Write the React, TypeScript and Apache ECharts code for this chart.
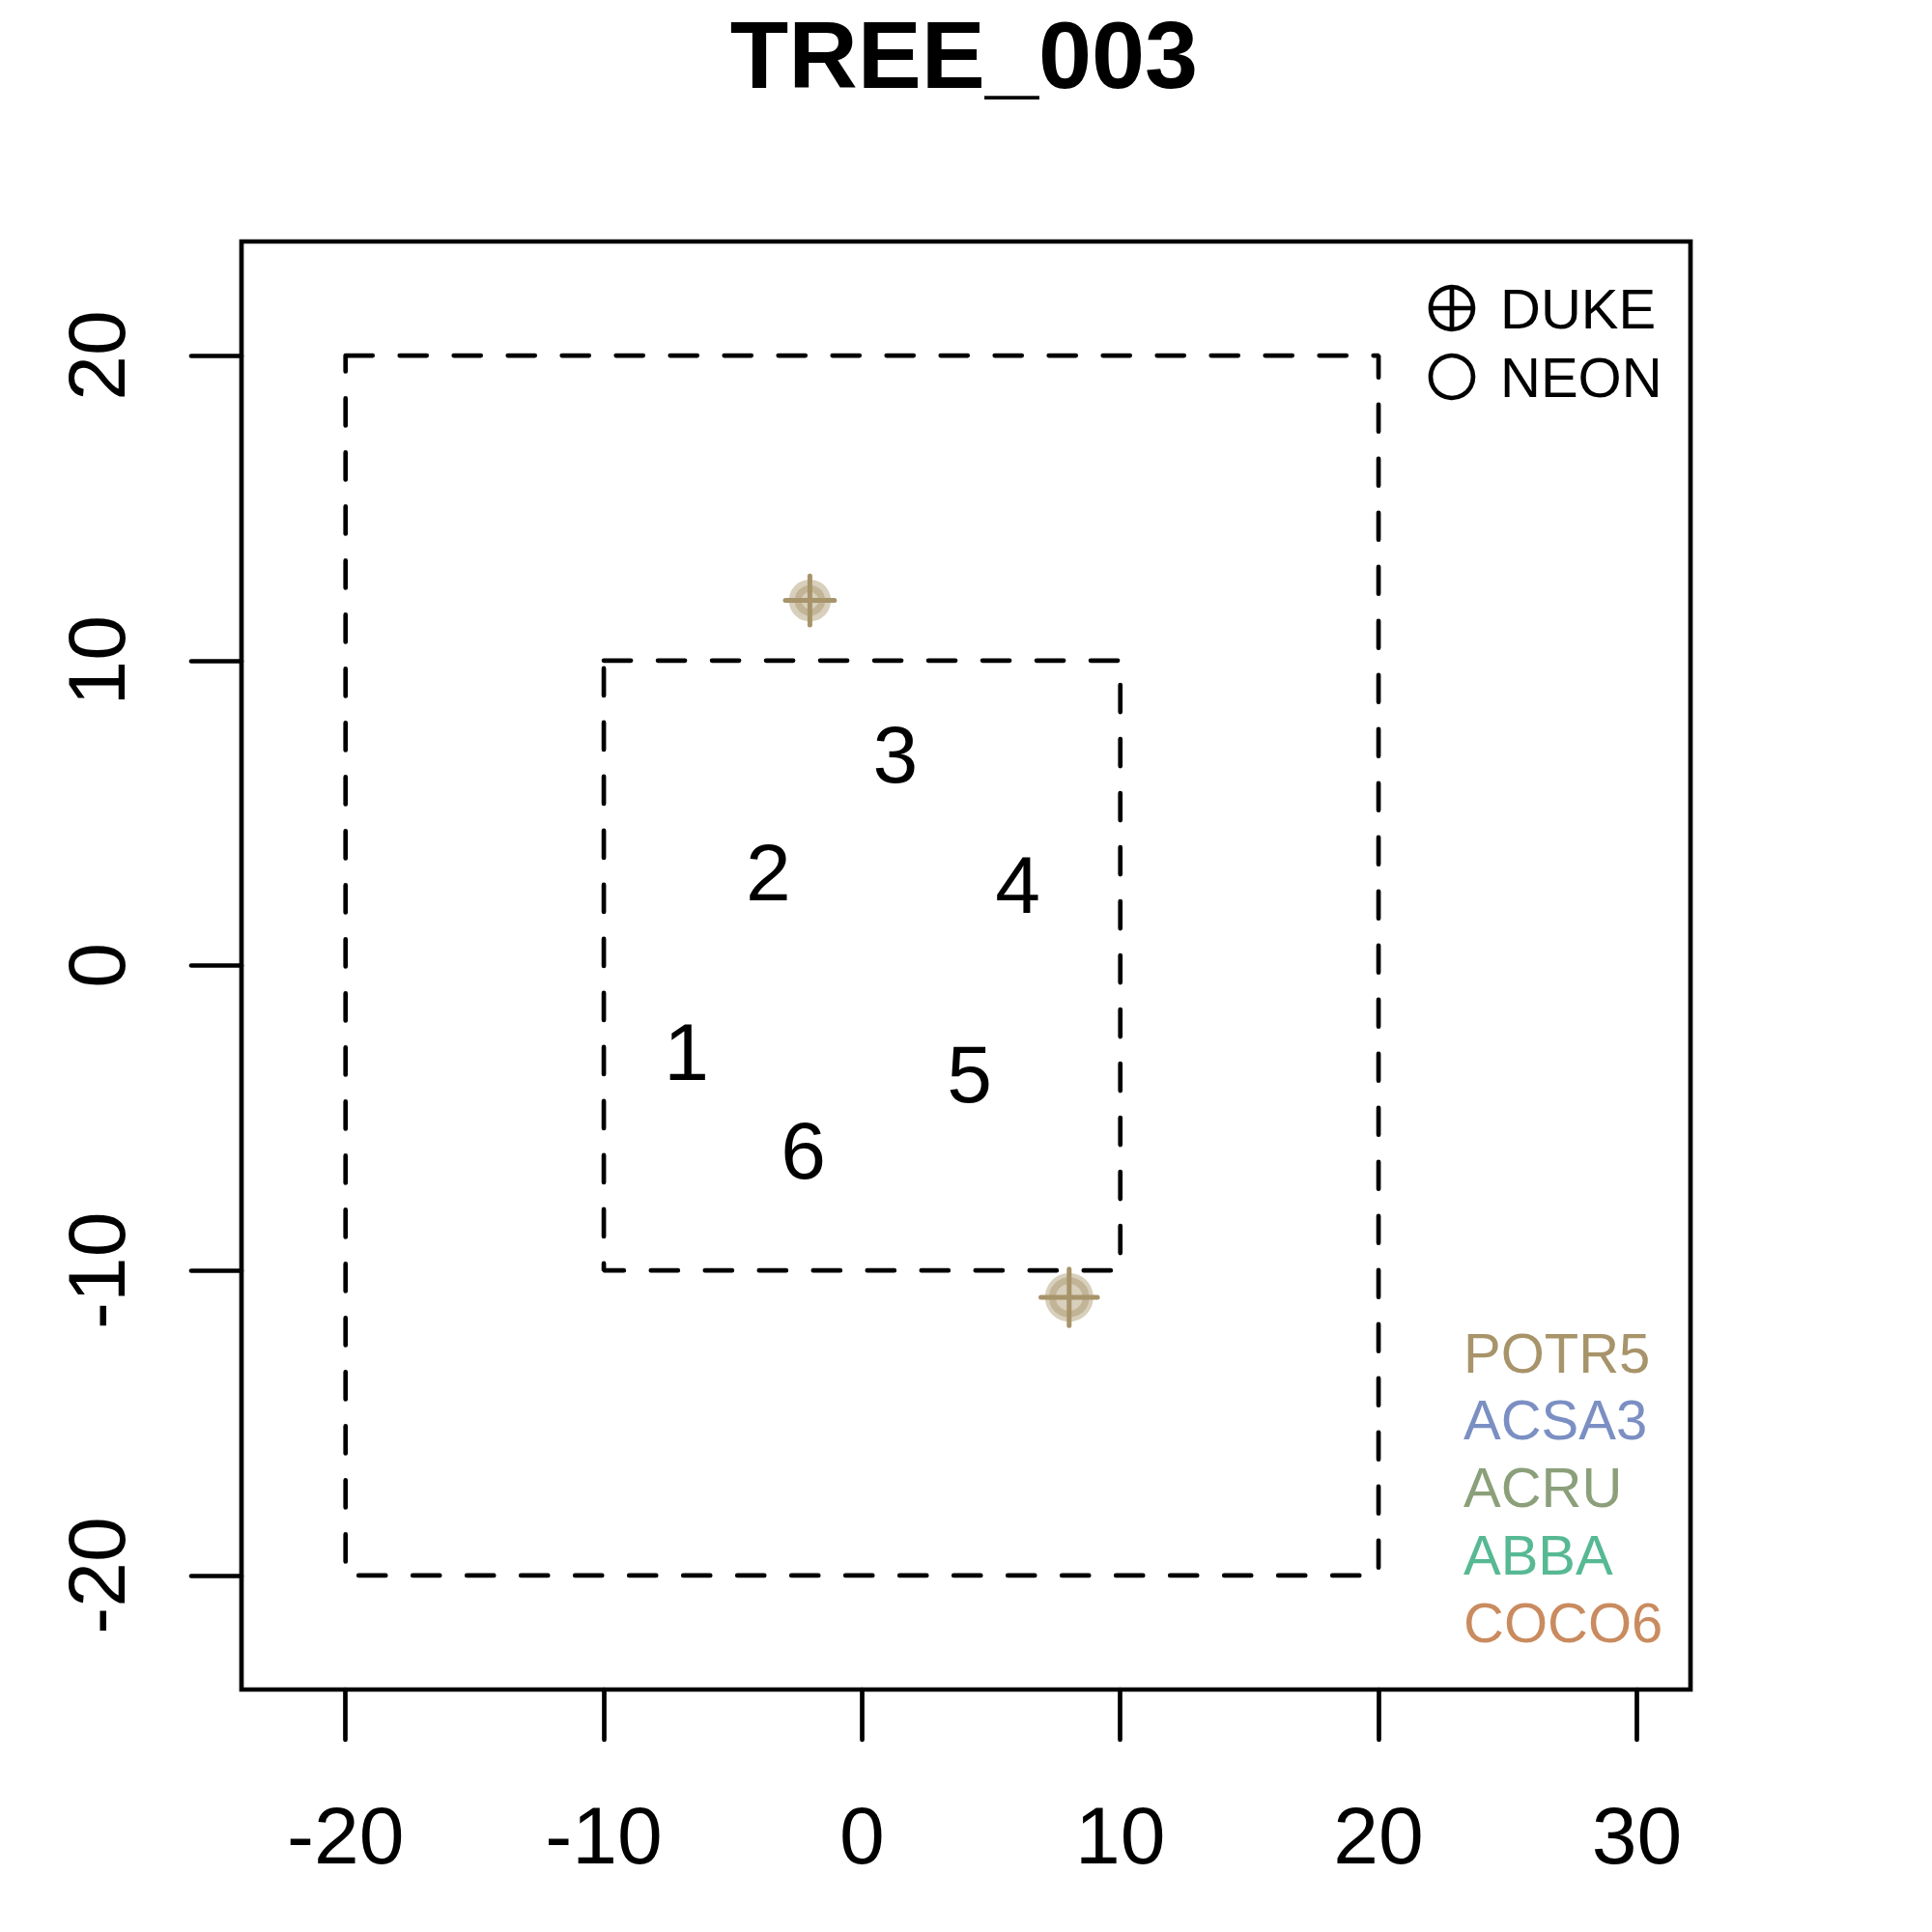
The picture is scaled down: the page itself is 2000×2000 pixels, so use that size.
import React, { useEffect, useRef } from "react";
import * as echarts from "echarts";

// ---------- data ----------
const chartTitle = "TREE_003";
const xTicks = [-20, -10, 0, 10, 20, 30];
const yTicks = [-20, -10, 0, 10, 20];
const xRange = [-24.03, 32.08];
const yRange = [-23.74, 23.74];

const outerHalf = 20; // outer plot boundary (m)
const innerHalf = 10; // inner plot boundary (m)

const subplotLabels = ["1", "2", "3", "4", "5", "6"];
const subplotX = [-6.8, -3.63, 1.29, 6.03, 4.16, -2.27];
const subplotY = [-2.83, 3.05, 6.91, 2.63, -3.55, -6.08];

const stemX = [-2.02, 8.02];
const stemY = [11.97, -10.88];
const stemSpecies = ["POTR5", "POTR5"];
const stemSource = ["DUKE", "DUKE"];
const crownSize = [21.7, 25];
const stemSize = [12.2, 17.3];

const sourceNames = ["DUKE", "NEON"];
const speciesNames = ["POTR5", "ACSA3", "ACRU", "ABBA", "COCO6"];
const speciesColors = ["#a8946a", "#7b8fc3", "#8ba07a", "#57b994", "#c98b5f"];

// ---------- helpers ----------
const FONT = "'Liberation Sans', Arial, Helvetica, sans-serif";

function hexToRgba(hex: string, a: number) {
  const n = parseInt(hex.slice(1), 16);
  return `rgba(${(n >> 16) & 255},${(n >> 8) & 255},${n & 255},${a})`;
}

function rectPath(h: number) {
  return [
    [-h, h],
    [h, h],
    [h, -h],
    [-h, -h],
    [-h, h],
  ];
}

export default function App() {
  const ref = useRef<HTMLDivElement>(null);

  useEffect(() => {
    if (!ref.current) return;
    const chart = echarts.init(ref.current, undefined, { renderer: "svg" });

    const stemData = stemX.map((x, i) => ({
      value: [x, stemY[i], crownSize[i], stemSize[i]],
      species: stemSpecies[i],
      source: stemSource[i],
    }));

    const labelData = subplotLabels.map((t, i) => ({
      value: [subplotX[i], subplotY[i]],
      name: t,
    }));

    const dashStyle = {
      color: "#000",
      width: 4.7,
      type: [28, 28] as any,
      cap: "round" as any,
    };

    const legendGraphics: any[] = [];
    const legendX = 1503;
    const legendY = [319, 390];
    sourceNames.forEach((name, i) => {
      const cy = legendY[i];
      legendGraphics.push({
        type: "circle",
        shape: { cx: legendX, cy, r: 22 },
        style: { fill: "none", stroke: "#000", lineWidth: 4.7 },
      });
      if (name === "DUKE") {
        legendGraphics.push({
          type: "line",
          shape: { x1: legendX - 22, y1: cy, x2: legendX + 22, y2: cy },
          style: { stroke: "#000", lineWidth: 4.7 },
        });
        legendGraphics.push({
          type: "line",
          shape: { x1: legendX, y1: cy - 22, x2: legendX, y2: cy + 22 },
          style: { stroke: "#000", lineWidth: 4.7 },
        });
      }
      legendGraphics.push({
        type: "text",
        x: 1553,
        y: cy,
        style: {
          text: name,
          fontSize: 58,
          fontFamily: FONT,
          fill: "#000",
          textAlign: "left",
          textVerticalAlign: "middle",
        },
      });
    });

    speciesNames.forEach((name, i) => {
      legendGraphics.push({
        type: "text",
        x: 1515,
        y: 1400 + i * 69.8,
        style: {
          text: name,
          fontSize: 58,
          fontFamily: FONT,
          fill: speciesColors[i],
          textAlign: "left",
          textVerticalAlign: "middle",
        },
      });
    });

    legendGraphics.push({
      type: "text",
      x: 998,
      y: 56,
      style: {
        text: chartTitle,
        fontSize: 99,
        fontWeight: "bold",
        fontFamily: FONT,
        fill: "#000",
        textAlign: "center",
        textVerticalAlign: "middle",
      },
    });

    chart.setOption({
      animation: false,
      backgroundColor: "#fff",
      grid: {
        left: 250,
        top: 250,
        width: 1500,
        height: 1499,
        show: true,
        borderColor: "#000",
        borderWidth: 4.7,
        backgroundColor: "transparent",
      },
      xAxis: {
        type: "value",
        position: "bottom",
        min: xRange[0],
        max: xRange[1],
        splitLine: { show: false },
        axisLine: { show: false, onZero: false },
        axisTick: {
          show: true,
          length: 52,
          inside: false,
          customValues: xTicks,
          lineStyle: { color: "#000", width: 4.7, cap: "round" },
        },
        axisLabel: {
          show: true,
          customValues: xTicks,
          margin: 109,
          fontSize: 84,
          fontFamily: FONT,
          color: "#000",
          hideOverlap: false,
        },
      },
      yAxis: {
        type: "value",
        position: "left",
        min: yRange[0],
        max: yRange[1],
        splitLine: { show: false },
        axisLine: { show: false, onZero: false },
        axisTick: {
          show: true,
          length: 52,
          inside: false,
          customValues: yTicks,
          lineStyle: { color: "#000", width: 4.7, cap: "round" },
        },
        axisLabel: {
          show: true,
          customValues: yTicks,
          rotate: 90,
          margin: 108,
          fontSize: 84,
          fontFamily: FONT,
          color: "#000",
          hideOverlap: false,
        },
      },
      graphic: legendGraphics,
      series: [
        {
          type: "line",
          data: rectPath(outerHalf),
          symbol: "none",
          lineStyle: dashStyle,
          silent: true,
        },
        {
          type: "line",
          data: rectPath(innerHalf),
          symbol: "none",
          lineStyle: dashStyle,
          silent: true,
        },
        {
          type: "custom",
          data: labelData,
          renderItem: (params: any, api: any) => {
            const p = api.coord([api.value(0), api.value(1)]);
            return {
              type: "text",
              x: p[0],
              y: p[1],
              style: {
                text: subplotLabels[params.dataIndex],
                fontSize: 84,
                fontFamily: FONT,
                fill: "#000",
                textAlign: "center",
                textVerticalAlign: "middle",
              },
            };
          },
        },
        {
          type: "custom",
          data: stemData,
          renderItem: (params: any, api: any) => {
            const p = api.coord([api.value(0), api.value(1)]);
            const r = api.value(2);
            const rr = api.value(3);
            const sp = stemSpecies[params.dataIndex];
            const col = speciesColors[speciesNames.indexOf(sp)];
            const soft = hexToRgba(col, 0.45);
            const c = r * 1.17;
            const children: any[] = [
              {
                type: "circle",
                shape: { cx: p[0], cy: p[1], r },
                style: { fill: soft },
              },
              {
                type: "circle",
                shape: { cx: p[0], cy: p[1], r: rr },
                style: { fill: "none", stroke: soft, lineWidth: 7 },
              },
            ];
            if (stemSource[params.dataIndex] === "DUKE") {
              children.push(
                {
                  type: "line",
                  shape: { x1: p[0] - c, y1: p[1], x2: p[0] + c, y2: p[1] },
                  style: { stroke: col, lineWidth: 5, lineCap: "round" },
                },
                {
                  type: "line",
                  shape: { x1: p[0], y1: p[1] - c, x2: p[0], y2: p[1] + c },
                  style: { stroke: col, lineWidth: 5, lineCap: "round" },
                }
              );
            }
            return { type: "group", children };
          },
        },
      ],
    });

    return () => chart.dispose();
  }, []);

  return (
    <div
      ref={ref}
      style={{ position: "absolute", left: 0, top: 0, width: 2000, height: 2000 }}
    />
  );
}
